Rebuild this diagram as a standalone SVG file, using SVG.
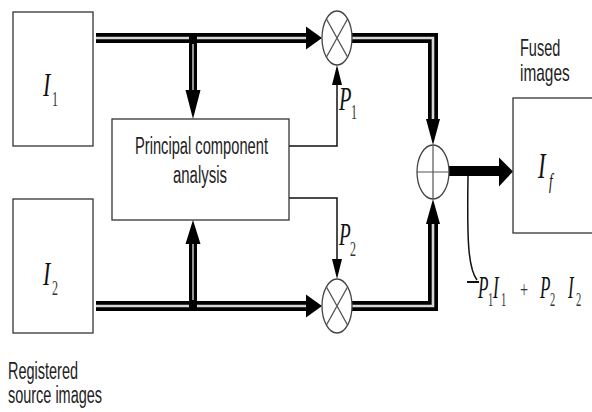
<svg xmlns="http://www.w3.org/2000/svg" xmlns:xlink="http://www.w3.org/1999/xlink" width="592" height="412" viewBox="0 0 592 412">
<style>
.bg{fill:#fff}
.box{fill:#fff;stroke:#333;stroke-width:1.3}
.op{fill:#fff;stroke:#444;stroke-width:1.3}
.opl{fill:none;stroke:#555;stroke-width:1.2}
.thin{fill:none;stroke:#111;stroke-width:1.5}
.dblo{fill:none;stroke:#000;stroke-width:10;stroke-linejoin:miter}
.dbli{fill:none;stroke:#d8d8d8;stroke-width:2.6;stroke-linejoin:miter}
.dblo2{fill:none;stroke:#000;stroke-width:8}
.dbli2{fill:none;stroke:#bbb;stroke-width:1.6}
.bar{fill:none;stroke:#000;stroke-width:10}
.head{fill:#000}
.lbl{font-family:"Liberation Sans",Arial,sans-serif;font-size:23px;fill:#222}
.m{font-family:"Liberation Serif","Times New Roman",serif;font-style:italic;fill:#111}
.s{font-family:"Liberation Serif","Times New Roman",serif;fill:#333}
</style>
<defs>
<path id="pTop" d="M96,38 H306"/>
<path id="pTopR" d="M352,38 H433 V119"/>
<path id="pBot" d="M96,306 H306"/>
<path id="pBotR" d="M352,306 H433 V224"/>
</defs>
<rect class="bg" x="0" y="0" width="592" height="412"/>

<g id="connectors">
  <use xlink:href="#pTop" class="dblo"/>
  <use xlink:href="#pTop" class="dbli"/>
  <polygon class="head" points="306,26.5 322,38 306,49.5"/>
  <use xlink:href="#pTopR" class="dblo"/>
  <use xlink:href="#pTopR" class="dbli"/>
  <polygon class="head" points="426,119 440,119 433,145"/>
  <use xlink:href="#pBot" class="dblo"/>
  <use xlink:href="#pBot" class="dbli"/>
  <polygon class="head" points="306,294.5 322,306 306,317.5"/>
  <use xlink:href="#pBotR" class="dblo"/>
  <use xlink:href="#pBotR" class="dbli"/>
  <polygon class="head" points="426,224 440,224 433,199"/>
  <path class="dblo2" d="M193,33 V91"/>
  <path class="dbli2" d="M193,44 V91"/>
  <polygon class="head" points="185.5,90 200.5,90 193,119"/>
  <path class="dblo2" d="M193,311 V243"/>
  <path class="dbli2" d="M193,300 V243"/>
  <polygon class="head" points="185.5,244 200.5,244 193,220"/>
  <path class="thin" d="M289,146 H337 V84"/>
  <polygon class="head" points="332,85 342,85 337,65"/>
  <path class="thin" d="M289,198 H337 V260"/>
  <polygon class="head" points="332,259 342,259 337,279"/>
  <path class="bar" d="M449,171 H500"/>
  <polygon class="head" points="499,157.5 513,171.5 499,186.5"/>
  <path class="thin" d="M468,176 C467,240 468,268 477,280"/>
  <path class="thin" style="stroke-width:2" d="M467,282 H479"/>
</g>

<g id="img1">
  <rect class="box" x="13" y="12" width="80" height="134"/>
  <text class="m" font-size="34" transform="translate(43,96) scale(0.65,1)">I</text>
  <text class="s" font-size="20" transform="translate(52,106) scale(0.6,1)">1</text>
</g>
<g id="img2">
  <rect class="box" x="13" y="199" width="80" height="134"/>
  <text class="m" font-size="34" transform="translate(43,285) scale(0.65,1)">I</text>
  <text class="s" font-size="20" transform="translate(52,295) scale(0.6,1)">2</text>
</g>
<g id="pca">
  <rect class="box" x="112" y="119" width="177" height="101"/>
  <text class="lbl" x="135" y="154" textLength="133" lengthAdjust="spacingAndGlyphs">Principal component</text>
  <text class="lbl" x="173" y="183" textLength="54" lengthAdjust="spacingAndGlyphs">analysis</text>
</g>
<g id="mult1">
  <ellipse class="op" cx="337" cy="38" rx="15" ry="27"/>
  <path class="opl" d="M326.4,18.9 L347.6,57.1 M347.6,18.9 L326.4,57.1"/>
</g>
<g id="mult2">
  <ellipse class="op" cx="337" cy="306" rx="15" ry="27"/>
  <path class="opl" d="M326.4,286.9 L347.6,325.1 M347.6,286.9 L326.4,325.1"/>
</g>
<g id="sum">
  <ellipse class="op" cx="433" cy="172" rx="16" ry="27"/>
  <path class="opl" d="M417,172 H449 M433,145 V199"/>
</g>
<g id="fused">
  <rect class="box" x="513" y="98" width="100" height="135"/>
  <text class="m" font-size="35" transform="translate(538,178) scale(0.65,1)">I</text>
  <text class="m" font-size="20" transform="translate(549,188) scale(0.65,1)">f</text>
</g>
<g id="labels">
  <text class="lbl" transform="translate(520,56) scale(0.63,1)">Fused</text>
  <text class="lbl" transform="translate(520,81) scale(0.67,1)">images</text>
  <text class="lbl" x="8" y="379" textLength="70" lengthAdjust="spacingAndGlyphs">Registered</text>
  <text class="lbl" x="8" y="403" textLength="94" lengthAdjust="spacingAndGlyphs">source images</text>
  <text class="m" font-size="34" transform="translate(339,110) scale(0.6,1)">P</text>
  <text class="s" font-size="20" transform="translate(351,119) scale(0.6,1)">1</text>
  <text class="m" font-size="32" transform="translate(339,245) scale(0.6,1)">P</text>
  <text class="s" font-size="20" transform="translate(350,256) scale(0.6,1)">2</text>
</g>
<g id="formula">
  <text class="m" font-size="31" transform="translate(478,298) scale(0.55,1)">P</text>
  <text class="s" font-size="19" transform="translate(488,306) scale(0.55,1)">1</text>
  <text class="m" font-size="31" transform="translate(493,298) scale(0.55,1)">I</text>
  <text class="s" font-size="19" transform="translate(501,306) scale(0.55,1)">1</text>
  <text class="s" font-size="24" transform="translate(520,297) scale(0.6,1)">+</text>
  <text class="m" font-size="31" transform="translate(540,298) scale(0.55,1)">P</text>
  <text class="s" font-size="19" transform="translate(550,306) scale(0.55,1)">2</text>
  <text class="m" font-size="31" transform="translate(568,298) scale(0.55,1)">I</text>
  <text class="s" font-size="19" transform="translate(576,306) scale(0.55,1)">2</text>
</g>
</svg>
